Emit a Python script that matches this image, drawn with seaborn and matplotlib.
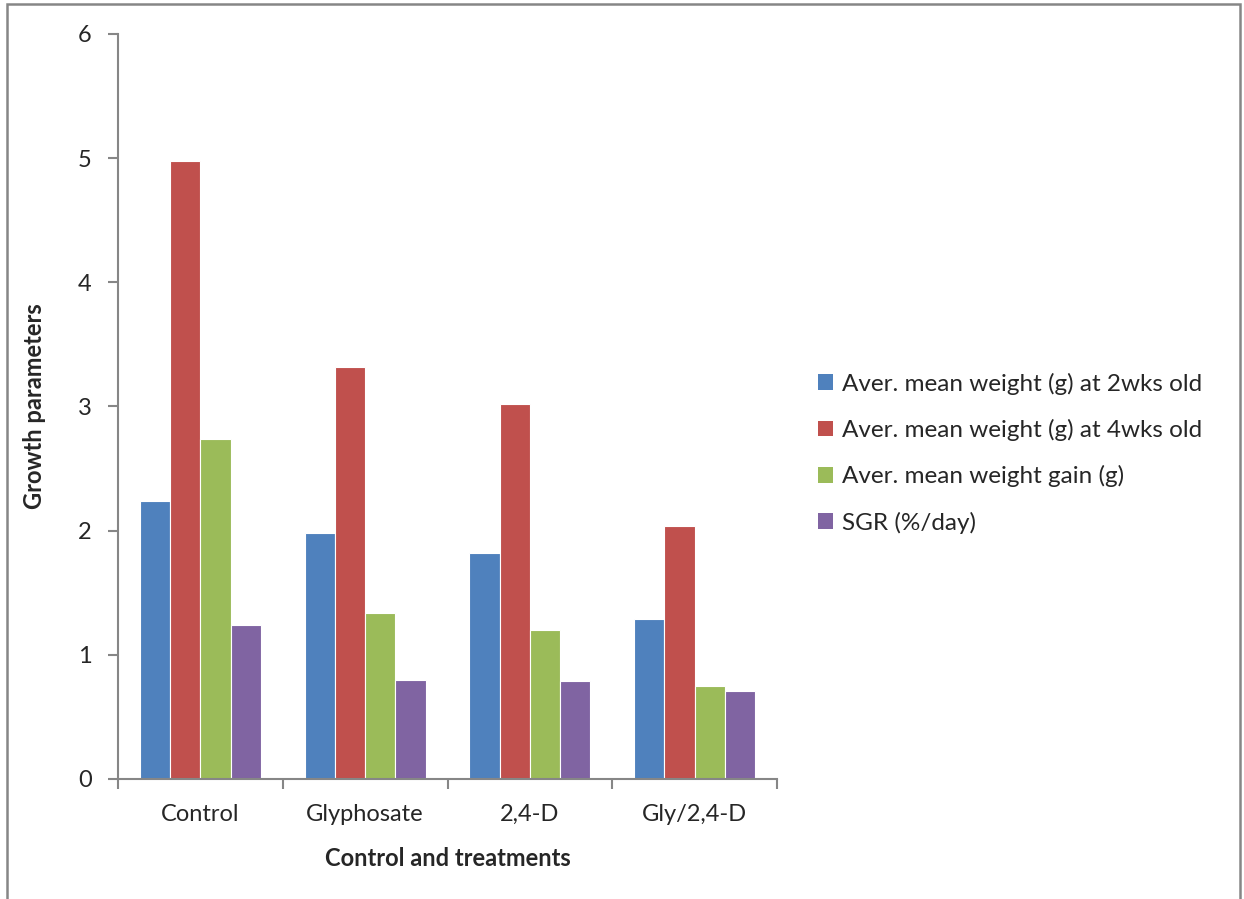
import matplotlib
matplotlib.use("Agg")
import matplotlib.pyplot as plt
from matplotlib.patches import Rectangle, Patch
import seaborn as sns
import pandas as pd

treatments = ["Control", "Glyphosate", "2,4-D", "Gly/2,4-D"]
series_names = [
    "Aver. mean weight (g) at 2wks old",
    "Aver. mean weight (g) at 4wks old",
    "Aver. mean weight gain (g)",
    "SGR (%/day)",
]
weight_2wks = [2.24, 1.98, 1.82, 1.29]
weight_4wks = [4.98, 3.32, 3.02, 2.04]
weight_gain = [2.74, 1.34, 1.20, 0.75]
sgr = [1.24, 0.80, 0.79, 0.71]
colors = ["#4F81BD", "#C0504D", "#9BBB59", "#8064A2"]

rows = []
for name, vals in zip(series_names, [weight_2wks, weight_4wks, weight_gain, sgr]):
    for t, v in zip(treatments, vals):
        rows.append({"Treatment": t, "Series": name, "Value": v})
df = pd.DataFrame(rows)

sns.set_theme(style="white")
plt.rcParams["font.family"] = ["Lato", "DejaVu Sans"]

fig = plt.figure(figsize=(12.44, 8.99), dpi=100)
ax = fig.add_axes([0.0949, 0.1335, 0.5297, 0.8287])

sns.barplot(data=df, x="Treatment", y="Value", hue="Series",
            order=treatments, hue_order=series_names, palette=colors,
            saturation=1, width=0.735, gap=0, edgecolor="white", linewidth=0.8,
            legend=False, ax=ax)

axis_gray = "#868686"
fs = 17
ax.set_ylim(0, 6)
ax.set_xlim(-0.5, 3.5)
ax.set_yticks(range(0, 7))
ax.set_yticklabels([str(v) for v in range(0, 7)], fontsize=fs)
ax.set_xticks(range(4))
ax.set_xticklabels(treatments, fontsize=fs)
ax.set_xticks([-0.5, 0.5, 1.5, 2.5, 3.5], minor=True)
ax.tick_params(axis="x", which="major", length=0, pad=18)
ax.tick_params(axis="x", which="minor", length=7, width=1.5, color=axis_gray, direction="out", bottom=True)
ax.tick_params(axis="y", which="major", length=7, width=1.5, color=axis_gray, direction="out", left=True, pad=12)

for side in ["top", "right"]:
    ax.spines[side].set_visible(False)
for side in ["left", "bottom"]:
    ax.spines[side].set_color(axis_gray)
    ax.spines[side].set_linewidth(1.5)

ax.set_xlabel("Control and treatments", fontsize=fs, fontweight="bold", labelpad=16)
ax.set_ylabel("Growth parameters", fontsize=fs, fontweight="bold", labelpad=23)

handles = [Patch(facecolor=c, edgecolor="none") for c in colors]
fig.legend(handles, series_names, loc="center left", bbox_to_anchor=(0.640, 0.496),
           frameon=False, fontsize=17.5, handlelength=0.62, handleheight=0.62,
           handletextpad=0.35, labelspacing=1.0)

fig.add_artist(Rectangle((0.0056, -0.05), 0.9912, 1.0455, transform=fig.transFigure,
                         fill=False, edgecolor=axis_gray, linewidth=1.8))

fig.savefig("out.png", dpi=100)
